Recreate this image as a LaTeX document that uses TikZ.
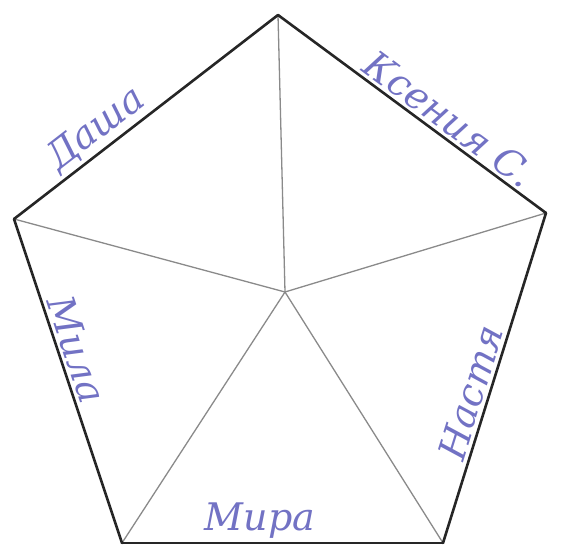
\documentclass[tikz,border=0pt]{standalone}
\usepackage{fontspec}
\setmainfont{DejaVu Serif}
\usetikzlibrary{positioning,calc}
\definecolor{Ink}{HTML}{7272C4}
\definecolor{Spoke}{HTML}{8A8A8A}
\tikzset{
  pent edge/.style={line width=2.6pt,draw=black!85,line cap=round,line join=round},
  pent spoke/.style={line width=1.3pt,draw=Spoke},
  name label/.style={sloped,above=3pt,inner sep=0pt,font=\fontsize{38}{40}\selectfont\itshape,text=Ink}
}
\begin{document}
\begin{tikzpicture}[x=1pt,y=1pt]
  \useasboundingbox (0,0) rectangle (563,546);
  % corners of the pentagon and its centre
  \coordinate (top) at (278,531);
  \coordinate (ur) at (546,333);
  \coordinate (lr) at (443,3);
  \coordinate (ll) at (122,3);
  \coordinate (ul) at (14,327);
  \coordinate (mid) at (285,254);
  % spokes
  \foreach \v in {top,ur,lr,ll,ul}
    \draw[pent spoke] (mid) -- (\v);
  % outline with the names
  \draw[pent edge] (ul) -- node[name label,pos=.36]{Даша} (top);
  \draw[pent edge] (top) -- node[name label,pos=.6]{Ксения С.} (ur);
  \draw[pent edge] (lr) -- node[name label,pos=.44]{Настя} (ur);
  \draw[pent edge] (ll) -- node[name label,pos=.43]{Мира} (lr);
  \draw[pent edge] (ul) -- node[name label,pos=.42]{Мила} (ll);
\end{tikzpicture}
\end{document}
